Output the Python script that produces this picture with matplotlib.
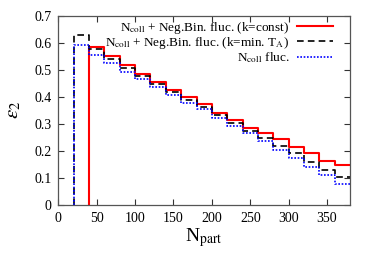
""" eccentricity eps2 vs Npart, three fluctuation models """
import numpy as np
import matplotlib
matplotlib.use("Agg")
from matplotlib import pyplot as plt

plt.rcParams['font.family'] = ['Liberation Serif', 'DejaVu Serif']
plt.rcParams['mathtext.fontset'] = 'stix'

# bin edges (Npart), 20 wide
edges_negbin_const = np.arange(40, 381, 20)
edges_negbin_ta = np.arange(20, 381, 20)
edges_ncoll = np.arange(20, 381, 20)

# eps2 per bin
eps_negbin_const = [0.585, 0.551, 0.517, 0.483, 0.454, 0.425, 0.399, 0.372, 0.341,
                    0.314, 0.286, 0.265, 0.242, 0.213, 0.191, 0.164, 0.146]
eps_negbin_ta = [0.630, 0.575, 0.540, 0.508, 0.477, 0.448, 0.419, 0.388, 0.364,
                 0.334, 0.304, 0.275, 0.247, 0.218, 0.191, 0.160, 0.129, 0.105]
eps_ncoll = [0.593, 0.556, 0.524, 0.492, 0.465, 0.436, 0.408, 0.378, 0.354,
             0.323, 0.293, 0.265, 0.237, 0.203, 0.173, 0.142, 0.111, 0.078]

labels = [r"N$_{\rm coll}$ + Neg.Bin. fluc. (k=const)",
          r"N$_{\rm coll}$ + Neg.Bin. fluc. (k=min. T$_{\rm A}$)",
          r"N$_{\rm coll}$ fluc."]


# histogram outline starting from zero at the first edge
def hist_line(ax, edges, vals, **kw):
	xs = np.concatenate([[edges[0]], edges])
	ys = np.concatenate([[0], vals, [vals[-1]]])
	return ax.step(xs, ys, where='post', **kw)[0]


fig = plt.figure(figsize=(3.74, 2.62), dpi=100)
ax = fig.add_axes([0.156, 0.218, 0.78, 0.722])

h1 = hist_line(ax, edges_negbin_const, eps_negbin_const, color='#ff0000', lw=1.5)
h2 = hist_line(ax, edges_negbin_ta, eps_negbin_ta, color='black', lw=1.2, dashes=(4, 2.5))
h3 = hist_line(ax, edges_ncoll, eps_ncoll, color='#0000ff', lw=1.2, dashes=(1, 1))

ax.set_xlim(0, 380)
ax.set_ylim(0, 0.7)
ax.set_xticks(np.arange(0, 351, 50))
ax.set_yticks(np.arange(0, 0.71, 0.1))
ax.set_yticklabels(["0", "0.1", "0.2", "0.3", "0.4", "0.5", "0.6", "0.7"])
ax.tick_params(direction='in', top=True, right=True, length=4, width=0.8,
               labelsize=10, colors='#333333', labelcolor='black', pad=5)
for s in ax.spines.values():
	s.set_color('#555555')
	s.set_linewidth(0.9)

ax.set_xlabel(r"N$_{\rm part}$", fontsize=14, labelpad=1)
ax.set_ylabel(r"$\varepsilon_2$", fontsize=15, labelpad=8)

ax.legend([h1, h2, h3], labels, loc='upper right', frameon=False, markerfirst=False,
          fontsize=9.5, handlelength=2.7, handletextpad=0.6, labelspacing=-0.05,
          borderaxespad=0.0, borderpad=0.2, bbox_to_anchor=(0.95, 0.993))

fig.savefig("out.png", dpi=100)
